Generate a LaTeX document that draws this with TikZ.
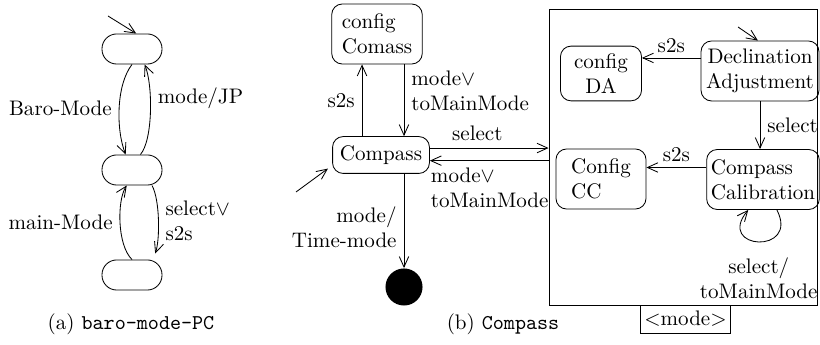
\documentclass[tikz,border=0pt]{standalone}
\usetikzlibrary{arrows.meta}
\tikzset{
  >={Straight Barb[length=5pt,width=4.5pt]},
  pill/.style={draw, minimum width=28.5pt, minimum height=14.3pt, rounded corners=7pt},
  stbox/.style={draw, rounded corners=5pt, inner sep=2pt, align=center},
  stleft/.style={stbox, align=left},
}
\begin{document}
\begin{tikzpicture}[x=0.475pt, y=-0.475pt]
\useasboundingbox (0,0) rectangle (820,345);

% (a) baro-mode-PC
\foreach \n/\y in {top/49,mid/170,bot/275}
  \node[pill] (\n) at (132,\y) {};

\coordinate (inA) at (108,16);
\draw[->] (inA) -- ([xshift=2pt]top.north);

\draw[->] (top.south) .. controls (116,85) and (116,130) .. ([xshift=-3pt]mid.north)
  node[pos=.5, left] {Baro-Mode};
\draw[->] ([xshift=4pt]mid.north) .. controls (153,140) and (153,85) .. ([xshift=6pt]top.south)
  node[pos=.62, right] {mode/JP};
\draw[->] (bot.north) .. controls (117,245) and (117,200) .. ([xshift=-2.5pt]mid.south)
  node[pos=.5, left] {main-Mode};
\draw[->, shorten >=3pt] ([xshift=9.5pt]mid.south) .. controls (160,200) and (160,240) .. ([xshift=10pt]bot.north)
  node[pos=.5, right, align=left] {select$\vee$\\s2s};

\node (capA) at (131,324) {(a) \texttt{baro-mode-PC}};

% (b) Compass
\node[stleft, minimum width=43pt, minimum height=28.5pt] (cfgcomp) at (377,34) {config\\Comass};
\node[stbox, minimum width=46pt, minimum height=17.5pt] (compass) at (381,155) {Compass};
\node[circle, fill, minimum size=17.6pt, inner sep=0pt] (final) at (404,287) {};

\node[draw, minimum width=127.3pt, minimum height=140.6pt, inner sep=0pt] (cbox) at (683,157) {};
\node[draw, minimum width=42.75pt, minimum height=13.3pt, inner sep=1pt] (modebox) at (685.5,319) {$<$mode$>$};

\node[stbox, minimum width=38.5pt, minimum height=26pt] (cfgda) at (601,73.5) {config\\DA};
\node[stbox, minimum width=56pt, minimum height=28.5pt] (decl) at (760,71) {Declination\\Adjustment};
\node[stleft, minimum width=42.75pt, minimum height=28.5pt] (cfgcc) at (601,179) {Config\\CC};
\node[stleft, minimum width=53.5pt, minimum height=28.5pt] (compcal) at (763,179.5) {Compass\\Calibration};

\coordinate (sA) at ([xshift=-9pt]compass.north);
\draw[->] (sA) -- (sA |- cfgcomp.south) node[midway, left] {s2s};
\draw[->] (cfgcomp.south -| final) -- (compass.north -| final)
  node[pos=.37, right, align=left] {mode$\vee$\\toMainMode};

\coordinate (selA) at ([yshift=3.3pt]compass.east);
\draw[->] (selA) -- (selA -| cbox.west) node[pos=.4, above] {select};
\coordinate (retA) at ([yshift=-2.7pt]compass.east);
\draw[->] (retA -| cbox.west) -- (retA)
  node[pos=1, anchor=north west, xshift=-3pt, align=left] {mode$\vee$\\toMainMode};

\coordinate (inB) at (296,192);
\draw[->] (inB) -- ([shift={(-2pt,2.5pt)}]compass.south west);
\draw[->] (compass.south -| final) -- (final)
  node[pos=.57, left, align=right] {mode/\\Time-mode};

\coordinate (inD) at (738,27);
\draw[->] (inD) -- ([xshift=-1pt]decl.north);

\coordinate (dW) at ([yshift=6.2pt]decl.west);
\draw[->] (dW) -- (dW -| cfgda.east) node[midway, above=-1pt] {s2s};
\draw[->] (decl.south) -- (decl.south |- compcal.north) node[midway, right] {select};
\coordinate (cW) at ([yshift=5.7pt]compcal.west);
\draw[->] (cW) -- (cW -| cfgcc.east) node[midway, above=-1pt] {s2s};

\draw[->] ([xshift=6.6pt]compcal.south) .. controls (800,255) and (715,250) .. ([xshift=-7pt]compcal.south)
  node[pos=.5, below=4pt, align=center] {select/\\toMainMode};

\node (capB) at (503,324) {(b) \texttt{Compass}};
\end{tikzpicture}
\end{document}
